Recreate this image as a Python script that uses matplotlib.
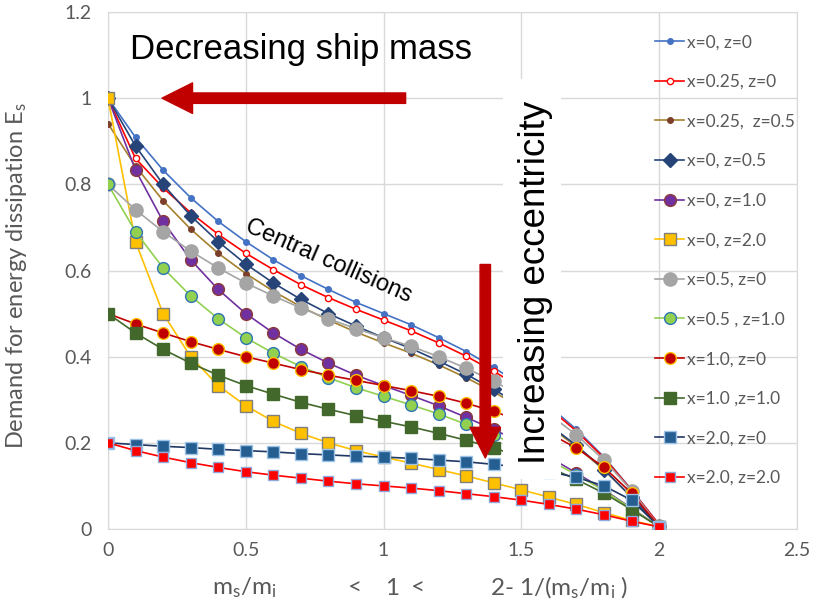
import matplotlib
matplotlib.use('Agg')
import matplotlib.pyplot as plt
from matplotlib.patches import Rectangle

plt.rcParams['font.family'] = ['Lato', 'DejaVu Sans']
plt.rcParams['mathtext.fontset'] = 'custom'
plt.rcParams['mathtext.rm'] = 'Lato'
plt.rcParams['mathtext.it'] = 'Lato:italic'

# x axis: ms/mi below 1, 2 - 1/(ms/mi) above 1
s = [0, 0.1, 0.2, 0.3, 0.4, 0.5, 0.6, 0.7, 0.8, 0.9, 1.0,
     1.1, 1.2, 1.3, 1.4, 1.5, 1.6, 1.7, 1.8, 1.9, 2.0]

es_x0_z0 = [1.000, 0.909, 0.833, 0.769, 0.714, 0.667, 0.625, 0.588, 0.556, 0.526, 0.500,
            0.474, 0.444, 0.412, 0.375, 0.333, 0.286, 0.231, 0.167, 0.091, 0.010]
es_x025_z0 = [1.000, 0.860, 0.792, 0.734, 0.684, 0.640, 0.602, 0.567, 0.537, 0.510, 0.485,
              0.460, 0.432, 0.401, 0.366, 0.327, 0.281, 0.227, 0.165, 0.090, 0.010]
es_x025_z05 = [0.941, 0.842, 0.762, 0.696, 0.640, 0.593, 0.552, 0.516, 0.485, 0.457, 0.432,
               0.408, 0.381, 0.351, 0.318, 0.281, 0.239, 0.191, 0.137, 0.074, 0.006]
es_x0_z05 = [1.000, 0.889, 0.800, 0.727, 0.667, 0.615, 0.571, 0.533, 0.500, 0.471, 0.444,
             0.419, 0.390, 0.359, 0.324, 0.286, 0.242, 0.194, 0.138, 0.074, 0.006]
es_x0_z1 = [1.000, 0.833, 0.714, 0.625, 0.556, 0.500, 0.455, 0.417, 0.385, 0.357, 0.333,
            0.310, 0.286, 0.259, 0.231, 0.200, 0.167, 0.130, 0.091, 0.048, 0.005]
es_x0_z2 = [1.000, 0.667, 0.500, 0.400, 0.333, 0.286, 0.250, 0.222, 0.200, 0.182, 0.167,
            0.153, 0.138, 0.123, 0.107, 0.091, 0.074, 0.057, 0.038, 0.020, 0.005]
es_x05_z0 = [0.800, 0.741, 0.690, 0.645, 0.606, 0.571, 0.541, 0.513, 0.488, 0.465, 0.444,
             0.424, 0.400, 0.373, 0.343, 0.308, 0.267, 0.218, 0.160, 0.089, 0.006]
es_x05_z1 = [0.800, 0.690, 0.606, 0.541, 0.488, 0.444, 0.408, 0.377, 0.351, 0.328, 0.308,
             0.288, 0.267, 0.243, 0.218, 0.190, 0.160, 0.126, 0.089, 0.047, 0.005]
es_x1_z0 = [0.500, 0.476, 0.455, 0.435, 0.417, 0.400, 0.385, 0.370, 0.357, 0.345, 0.333,
            0.321, 0.308, 0.292, 0.273, 0.250, 0.222, 0.188, 0.143, 0.083, 0.005]
es_x1_z1 = [0.500, 0.455, 0.417, 0.385, 0.357, 0.333, 0.313, 0.294, 0.278, 0.263, 0.250,
            0.237, 0.222, 0.206, 0.188, 0.167, 0.143, 0.115, 0.083, 0.045, 0.005]
es_x2_z0 = [0.200, 0.196, 0.192, 0.189, 0.185, 0.182, 0.179, 0.175, 0.172, 0.169, 0.167,
            0.164, 0.160, 0.156, 0.150, 0.143, 0.133, 0.120, 0.100, 0.067, 0.005]
es_x2_z2 = [0.200, 0.182, 0.167, 0.154, 0.143, 0.133, 0.125, 0.118, 0.111, 0.105, 0.100,
            0.095, 0.089, 0.082, 0.075, 0.067, 0.057, 0.046, 0.033, 0.018, 0.005]

labels = ['x=0, z=0', 'x=0.25, z=0', 'x=0.25,  z=0.5', 'x=0, z=0.5', 'x=0, z=1.0',
          'x=0, z=2.0', 'x=0.5, z=0', 'x=0.5 , z=1.0', 'x=1.0, z=0', 'x=1.0 ,z=1.0',
          'x=2.0, z=0', 'x=2.0, z=2.0']
series = [es_x0_z0, es_x025_z0, es_x025_z05, es_x0_z05, es_x0_z1, es_x0_z2,
          es_x05_z0, es_x05_z1, es_x1_z0, es_x1_z1, es_x2_z0, es_x2_z2]

# line colour, marker, size, face, edge
styles = [
    ('#4472C4', 'o', 4, '#4472C4', '#4472C4'),
    ('#FF0000', 'o', 4.5, 'white', '#FF0000'),
    ('#A5812D', 'o', 4, '#7B3F2A', '#7B3F2A'),
    ('#264478', 'D', 7.5, '#264478', '#264478'),
    ('#7030A0', 'o', 8.5, '#7030A0', '#8B3A3A'),
    ('#FFC000', 's', 8, '#FFC000', '#7F7F7F'),
    ('#A5A5A5', 'o', 9.5, '#A5A5A5', '#A5A5A5'),
    ('#92D050', 'o', 8.5, '#92D050', '#2E75B6'),
    ('#C00000', 'o', 8.5, '#C00000', '#FFC000'),
    ('#43682B', 's', 9, '#43682B', '#43682B'),
    ('#203864', 's', 8.5, '#255E91', '#9DC3E6'),
    ('#FF0000', 's', 7, '#FF0000', '#8FAADC'),
]

grey = '#595959'
fig = plt.figure(figsize=(8.13, 6.12), dpi=100)
ax = fig.add_axes([0.1328, 0.1356, 0.8475, 0.8448])

for lab, vals, (lc, mk, ms, mfc, mec) in zip(labels, series, styles):
    ax.plot(s, vals, color=lc, lw=1.2, marker=mk, markersize=ms,
            markerfacecolor=mfc, markeredgecolor=mec, markeredgewidth=1.0,
            label=lab, zorder=3)

ax.set_xlim(0, 2.5)
ax.set_ylim(0, 1.2)
ax.set_xticks([0, 0.5, 1, 1.5, 2, 2.5], ['0', '0.5', '1', '1.5', '2', '2.5'])
ax.set_yticks([0, 0.2, 0.4, 0.6, 0.8, 1.0, 1.2], ['0', '0.2', '0.4', '0.6', '0.8', '1', '1.2'])
ax.tick_params(length=0, labelsize=14, labelcolor=grey)
ax.tick_params(axis='y', pad=12)
ax.tick_params(axis='x', pad=9)
ax.grid(True, color='#D9D9D9', lw=1.0, zorder=0)
ax.set_axisbelow(True)
for sp in ax.spines.values():
    sp.set_color('#D9D9D9')

ax.set_ylabel('Demand for energy dissipation E$_\\mathrm{s}$', fontsize=17, color=grey)
ax.yaxis.set_label_coords(-0.115, 0.49)

# x axis title in pieces
xl_y = 0.039
fig.text(0.30, xl_y, 'm$_\\mathrm{s}$/m$_\\mathrm{i}$', fontsize=17.5, color=grey, ha='center', va='center')
fig.text(0.437, xl_y, '<', fontsize=17.5, color=grey, ha='center', va='center')
fig.text(0.482, xl_y, '1', fontsize=17.5, color=grey, ha='center', va='center')
fig.text(0.514, xl_y, '<', fontsize=17.5, color=grey, ha='center', va='center')
fig.text(0.688, xl_y, '2- 1/(m$_\\mathrm{s}$/m$_\\mathrm{i}$ )', fontsize=17.5, color=grey,
         ha='center', va='center')

# white panel behind the vertical annotation
ax.add_patch(Rectangle((1.433, 0.115), 0.211, 0.93, facecolor='white',
                       edgecolor='none', zorder=5))
ax.text(1.553, 0.572, 'Increasing eccentricity', rotation=90, fontsize=26.5,
        family='Liberation Sans', ha='center', va='center', zorder=6)

ax.text(0.08, 1.091, 'Decreasing ship mass', fontsize=25, family='Liberation Sans',
        ha='left', va='baseline', zorder=6)
ax.text(0.80, 0.622, 'Central collisions', fontsize=17, family='Liberation Sans',
        rotation=-23.5, rotation_mode='anchor', ha='center', va='center', zorder=6)

arrow = dict(width=7.5, headwidth=22, headlength=22, color='#C00000', shrink=0)
ax.annotate('', xy=(0.196, 1.0), xytext=(1.08, 1.0), arrowprops=arrow, zorder=6)
ax.annotate('', xy=(1.369, 0.165), xytext=(1.369, 0.614), arrowprops=arrow, zorder=6)

leg = ax.legend(loc='upper left', bbox_to_anchor=(0.806, 0.944), bbox_transform=fig.transFigure,
                frameon=False, fontsize=12.5, handlelength=1.65, handletextpad=0.15,
                labelspacing=1.36, borderpad=0, borderaxespad=0)
for t in leg.get_texts():
    t.set_color(grey)

fig.savefig('out.png', dpi=100)
